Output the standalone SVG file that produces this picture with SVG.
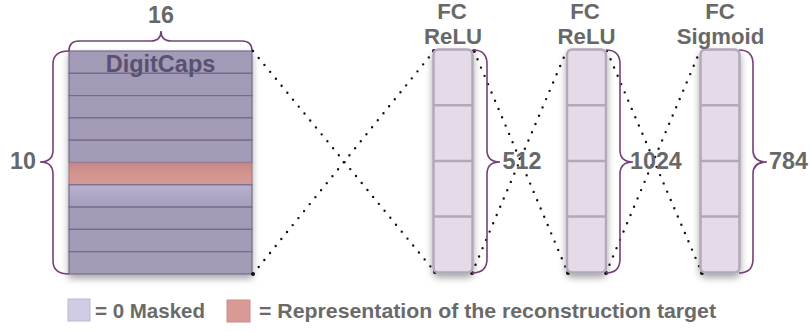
<svg xmlns="http://www.w3.org/2000/svg" width="810" height="331" viewBox="0 0 810 331">
<style>
.lbl{font-family:"Liberation Sans",Arial,sans-serif;font-weight:bold;font-size:23.3px;fill:#686868}
.top{font-family:"Liberation Sans",Arial,sans-serif;font-weight:bold;font-size:22.2px;fill:#686868}
.leg{font-family:"Liberation Sans",Arial,sans-serif;font-weight:bold;font-size:20.5px;fill:#6a6a6a}
.brace{fill:none;stroke:#74407a;stroke-width:1.6}
.row{fill:url(#gRow);stroke:#73698e;stroke-width:1.2}
.rowR{fill:url(#gRed);stroke:#9a7f88;stroke-width:1.2}
.cell{fill:#e5dbe8;stroke:#b3a8b8;stroke-width:2.5}
.dots{fill:none;stroke:#111;stroke-width:2.4;stroke-linecap:round;stroke-dasharray:0 9}
</style>
<defs>
<linearGradient id="gRow" x1="0" y1="0" x2="0" y2="1">
<stop offset="0" stop-color="#a49bb8"/><stop offset="1" stop-color="#a39ab5"/>
</linearGradient>
<linearGradient id="gLight" x1="0" y1="0" x2="0" y2="1">
<stop offset="0" stop-color="#b8b2ce"/><stop offset="1" stop-color="#a59eba"/>
</linearGradient>
<linearGradient id="gRed" x1="0" y1="0" x2="0" y2="1">
<stop offset="0" stop-color="#c5868a"/><stop offset="0.5" stop-color="#d4958f"/><stop offset="1" stop-color="#d59994"/>
</linearGradient>
<filter id="sh" x="-30%" y="-10%" width="160%" height="125%">
<feDropShadow dx="0" dy="4" stdDeviation="3.5" flood-color="#000" flood-opacity="0.35"/>
</filter>
<marker id="dot" viewBox="0 0 4 4" refX="2" refY="2" markerWidth="4" markerHeight="4" markerUnits="userSpaceOnUse">
<circle cx="2" cy="2" r="2" fill="#111"/>
</marker>
</defs>

<g id="digitcaps">
<g filter="url(#sh)">
<rect x="69" y="51" width="183" height="223" fill="#a39ab5"/>
<rect class="row" x="69" y="51" width="183" height="22.3"/>
<rect class="row" x="69" y="73.3" width="183" height="22.3"/>
<rect class="row" x="69" y="95.6" width="183" height="22.3"/>
<rect class="row" x="69" y="117.9" width="183" height="22.3"/>
<rect class="row" x="69" y="140.2" width="183" height="22.3"/>
<rect class="rowR" x="69" y="162.5" width="183" height="22.3"/>
<rect class="row" x="69" y="184.8" width="183" height="22.3" style="fill:url(#gLight)"/>
<rect class="row" x="69" y="207.1" width="183" height="22.3"/>
<rect class="row" x="69" y="229.4" width="183" height="22.3"/>
<rect class="row" x="69" y="251.7" width="183" height="22.3"/>
</g>
<text x="160.5" y="72" text-anchor="middle" style="font-family:'Liberation Sans',Arial,sans-serif;font-weight:bold;font-size:23.5px;fill:#5a5170">DigitCaps</text>
<path class="brace" d="M69,51 Q69,41 79,41 L151,41 Q161,41 161,31 Q161,41 171,41 L242,41 Q252,41 252,51"/>
<text class="lbl" x="161" y="23" text-anchor="middle">16</text>
<path class="brace" d="M69,51 Q53,51 53,64 L53,150 Q53,162 40,162 Q53,162 53,174 L53,261 Q53,274 69,274"/>
<text class="lbl" x="10" y="168.5">10</text>
</g>

<g id="connectors">
<path class="dots" d="M253,51 L435,272" marker-end="url(#dot)"/>
<path class="dots" d="M253,274 L434,51" marker-start="url(#dot)" marker-end="url(#dot)"/>
<path class="dots" d="M474,51 L568,273" marker-start="url(#dot)" marker-end="url(#dot)"/>
<path class="dots" d="M472,273 L567,50" marker-start="url(#dot)"/>
<path class="dots" d="M607,51 L702,273" marker-end="url(#dot)"/>
<path class="dots" d="M606,273 L700,51" marker-start="url(#dot)"/>
</g>

<g id="fc1">
<g filter="url(#sh)">
<rect class="cell" x="433.5" y="49.5" width="39" height="223" rx="5"/>
</g>
<path d="M433.5,105.2 H472.5 M433.5,160.9 H472.5 M433.5,216.6 H472.5" stroke="#b3a8b8" stroke-width="2.5"/>
<path class="brace" d="M473,50 Q487,50 487,64 L487,150 Q487,162 500,162 Q487,162 487,174 L487,259 Q487,273 472,273"/>
<text class="top" x="452" y="19.2" text-anchor="middle">FC</text>
<text class="top" x="453" y="43.5" text-anchor="middle">ReLU</text>
<text class="lbl" x="502.5" y="169">512</text>
</g>

<g id="fc2">
<g filter="url(#sh)">
<rect class="cell" x="567" y="49.5" width="39" height="223" rx="5"/>
</g>
<path d="M567,105.2 H606 M567,160.9 H606 M567,216.6 H606" stroke="#b3a8b8" stroke-width="2.5"/>
<path class="brace" d="M606,50 Q620,50 620,64 L620,150 Q620,162 633,162 Q620,162 620,174 L620,259 Q620,273 606,273"/>
<text class="top" x="585" y="19.2" text-anchor="middle">FC</text>
<text class="top" x="586.5" y="43.5" text-anchor="middle">ReLU</text>
<text class="lbl" x="630" y="169">1024</text>
</g>

<g id="fc3">
<g filter="url(#sh)">
<rect class="cell" x="700.5" y="49.5" width="39" height="223" rx="5"/>
</g>
<path d="M700.5,105.2 H739.5 M700.5,160.9 H739.5 M700.5,216.6 H739.5" stroke="#b3a8b8" stroke-width="2.5"/>
<path class="brace" d="M739,50 Q753,50 753,64 L753,150 Q753,162 767,162 Q753,162 753,174 L753,259 Q753,273 739,273"/>
<text class="top" x="720" y="19.2" text-anchor="middle">FC</text>
<text class="top" x="720.5" y="43.5" text-anchor="middle">Sigmoid</text>
<text class="lbl" x="769" y="169">784</text>
</g>

<g id="legend">
<rect x="68" y="299" width="22" height="22" fill="#cfcce3" stroke="#bdb8d3" stroke-width="1"/>
<text class="leg" x="95" y="317.5">= 0 Masked</text>
<rect x="227" y="300" width="23" height="22" fill="#d99a95" stroke="#c98c88" stroke-width="1"/>
<text class="leg" x="259" y="317.5" textLength="457" lengthAdjust="spacingAndGlyphs">= Representation of the reconstruction target</text>
</g>
</svg>
